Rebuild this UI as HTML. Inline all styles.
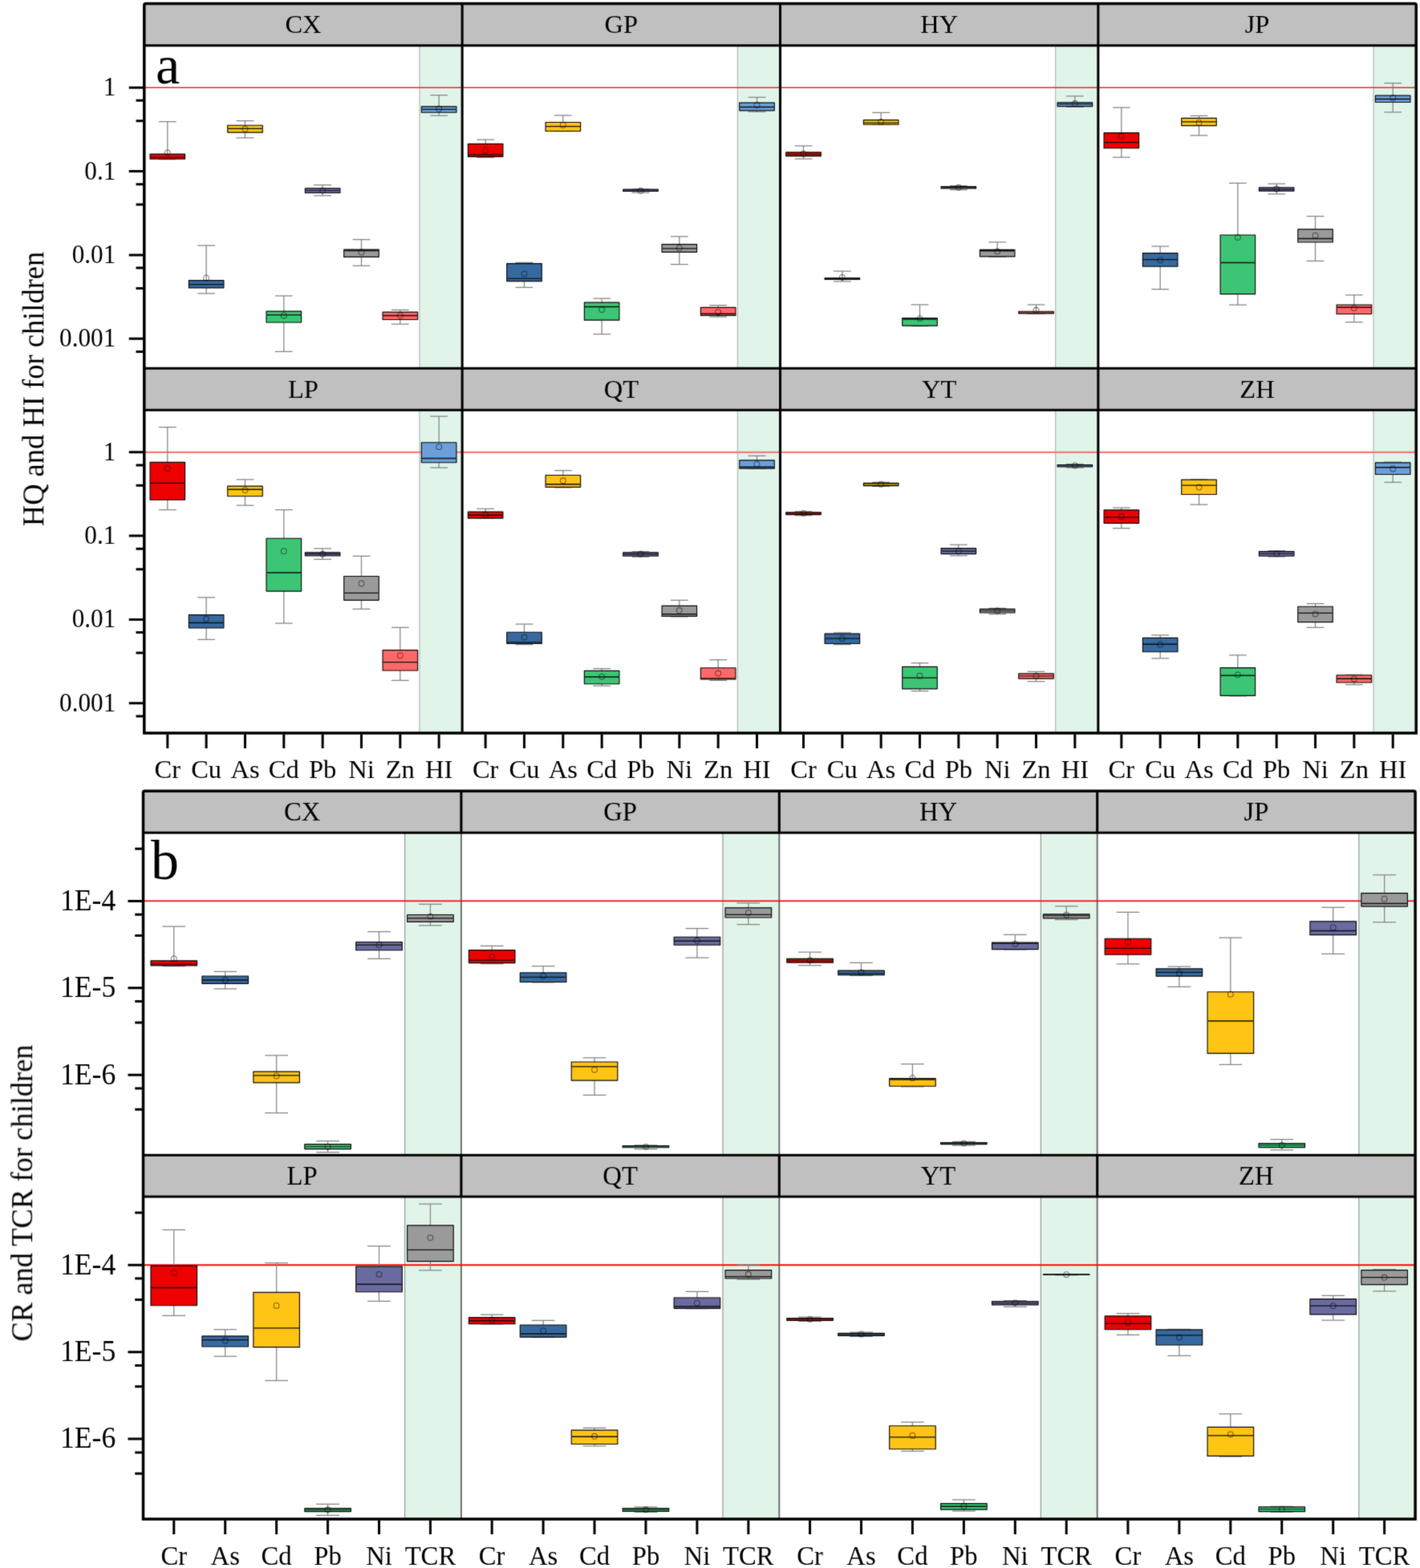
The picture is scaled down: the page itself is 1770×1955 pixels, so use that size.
<!DOCTYPE html>
<html lang="en">
<head>
<meta charset="utf-8">
<title>HQ, HI, CR and TCR for children</title>
<style>
html,body{margin:0;padding:0;background:#fff;}
body{width:1770px;height:1955px;overflow:hidden;}
svg{display:block;}
svg text{font-family:"Liberation Serif","Times New Roman",serif;fill:#000;}
</style>
</head>
<body>
<svg width="1770" height="1955" viewBox="0 0 1770 1955">
<defs><filter id="soft" x="0" y="0" width="1770" height="1955" filterUnits="userSpaceOnUse" color-interpolation-filters="sRGB"><feConvolveMatrix order="3" kernelMatrix="0.02 0.09 0.02 0.09 0.56 0.09 0.02 0.09 0.02" edgeMode="duplicate" preserveAlpha="false"/></filter></defs>
<rect width="1770" height="1955" fill="#fff"/>
<g filter="url(#soft)">
<rect x="522.98" y="56.8" width="53.17" height="402.5" fill="#e1f4ea"/>
<line x1="522.98" y1="56.8" x2="522.98" y2="459.3" stroke="#a9b4ae" stroke-width="1.1"/>
<rect x="919.33" y="56.8" width="53.17" height="402.5" fill="#e1f4ea"/>
<line x1="919.33" y1="56.8" x2="919.33" y2="459.3" stroke="#a9b4ae" stroke-width="1.1"/>
<rect x="1315.68" y="56.8" width="53.17" height="402.5" fill="#e1f4ea"/>
<line x1="1315.68" y1="56.8" x2="1315.68" y2="459.3" stroke="#a9b4ae" stroke-width="1.1"/>
<rect x="1712.03" y="56.8" width="53.17" height="402.5" fill="#e1f4ea"/>
<line x1="1712.03" y1="56.8" x2="1712.03" y2="459.3" stroke="#a9b4ae" stroke-width="1.1"/>
<line x1="179.8" y1="109.2" x2="1765.2" y2="109.2" stroke="#e8282c" stroke-width="1.4" stroke-opacity="1"/>
<rect x="522.98" y="511.2" width="53.17" height="402.7" fill="#e1f4ea"/>
<line x1="522.98" y1="511.2" x2="522.98" y2="913.9" stroke="#a9b4ae" stroke-width="1.1"/>
<rect x="919.33" y="511.2" width="53.17" height="402.7" fill="#e1f4ea"/>
<line x1="919.33" y1="511.2" x2="919.33" y2="913.9" stroke="#a9b4ae" stroke-width="1.1"/>
<rect x="1315.68" y="511.2" width="53.17" height="402.7" fill="#e1f4ea"/>
<line x1="1315.68" y1="511.2" x2="1315.68" y2="913.9" stroke="#a9b4ae" stroke-width="1.1"/>
<rect x="1712.03" y="511.2" width="53.17" height="402.7" fill="#e1f4ea"/>
<line x1="1712.03" y1="511.2" x2="1712.03" y2="913.9" stroke="#a9b4ae" stroke-width="1.1"/>
<line x1="179.8" y1="563.9" x2="1765.2" y2="563.9" stroke="#f77" stroke-width="2.4" stroke-opacity="1"/>
<path d="M208.8 151.64V198.62M197.93 151.64H219.68M197.93 198.62H219.68" stroke="#858585" stroke-width="1.25" fill="none"/><rect x="187.03" y="192.08" width="43.55" height="6.14" fill="#ee0000" stroke="#0a0a0a" stroke-width="1.15" stroke-linejoin="round"/><line x1="187.63" y1="196.16" x2="229.98" y2="196.16" stroke="#111" stroke-width="1.35" stroke-opacity="0.8"/><circle cx="208.8" cy="190.34" r="3.4" fill="none" stroke="#000" stroke-opacity="0.5" stroke-width="1.05"/>
<path d="M257.14 306.01V365.97M246.26 306.01H268.01M246.26 365.97H268.01" stroke="#858585" stroke-width="1.25" fill="none"/><rect x="235.36" y="349.59" width="43.55" height="9.27" fill="#36699f" stroke="#0a0a0a" stroke-width="1.15" stroke-linejoin="round"/><line x1="235.96" y1="354.56" x2="278.31" y2="354.56" stroke="#111" stroke-width="1.35" stroke-opacity="1"/><circle cx="257.14" cy="346.73" r="3.4" fill="none" stroke="#000" stroke-opacity="0.5" stroke-width="1.05"/>
<path d="M305.47 150.74V171.77M294.6 150.74H316.35M294.6 171.77H316.35" stroke="#858585" stroke-width="1.25" fill="none"/><rect x="283.7" y="156.29" width="43.55" height="8.82" fill="#ffc414" stroke="#0a0a0a" stroke-width="1.15" stroke-linejoin="round"/><line x1="284.3" y1="160.36" x2="326.65" y2="160.36" stroke="#111" stroke-width="1.35" stroke-opacity="1"/><circle cx="305.47" cy="160.81" r="3.4" fill="none" stroke="#000" stroke-opacity="0.5" stroke-width="1.05"/>
<path d="M353.81 368.88V438.46M342.93 368.88H364.68M342.93 438.46H364.68" stroke="#858585" stroke-width="1.25" fill="none"/><rect x="332.03" y="388.07" width="43.55" height="13.97" fill="#3cc574" stroke="#0a0a0a" stroke-width="1.15" stroke-linejoin="round"/><line x1="332.63" y1="392.59" x2="374.98" y2="392.59" stroke="#111" stroke-width="1.35" stroke-opacity="1"/><circle cx="353.81" cy="393.49" r="3.4" fill="none" stroke="#000" stroke-opacity="0.5" stroke-width="1.05"/>
<path d="M402.14 230.61V243.81M391.27 230.61H413.02M391.27 243.81H413.02" stroke="#858585" stroke-width="1.25" fill="none"/><rect x="380.37" y="234.82" width="43.55" height="5.69" fill="#6a6aa0" stroke="#0a0a0a" stroke-width="1.15" stroke-linejoin="round"/><line x1="380.97" y1="237.55" x2="423.32" y2="237.55" stroke="#111" stroke-width="1.35" stroke-opacity="0.8"/><circle cx="402.14" cy="237.55" r="3.4" fill="none" stroke="#000" stroke-opacity="0.5" stroke-width="1.05"/>
<path d="M450.48 298.63V331.29M439.6 298.63H461.35M439.6 331.29H461.35" stroke="#858585" stroke-width="1.25" fill="none"/><rect x="428.7" y="311.11" width="43.55" height="9.27" fill="#9a9a9a" stroke="#0a0a0a" stroke-width="1.15" stroke-linejoin="round"/><line x1="429.3" y1="312.5" x2="471.65" y2="312.5" stroke="#111" stroke-width="1.35" stroke-opacity="1"/><circle cx="450.48" cy="314.51" r="3.4" fill="none" stroke="#000" stroke-opacity="0.5" stroke-width="1.05"/>
<path d="M498.81 386.33V404.23M487.94 386.33H509.69M487.94 404.23H509.69" stroke="#858585" stroke-width="1.25" fill="none"/><rect x="477.04" y="389.19" width="43.55" height="9.27" fill="#ff6868" stroke="#0a0a0a" stroke-width="1.15" stroke-linejoin="round"/><line x1="477.64" y1="393.49" x2="519.99" y2="393.49" stroke="#111" stroke-width="1.35" stroke-opacity="1"/><circle cx="498.81" cy="393.49" r="3.4" fill="none" stroke="#000" stroke-opacity="0.5" stroke-width="1.05"/>
<path d="M547.15 118.53V144.03M536.27 118.53H558.02M536.27 144.03H558.02" stroke="#858585" stroke-width="1.25" fill="none"/><rect x="525.37" y="132.8" width="43.55" height="7.48" fill="#6b9fd8" stroke="#0a0a0a" stroke-width="1.15" stroke-linejoin="round"/><line x1="525.97" y1="136.42" x2="568.32" y2="136.42" stroke="#111" stroke-width="1.35" stroke-opacity="1"/><circle cx="547.15" cy="135.75" r="3.4" fill="none" stroke="#000" stroke-opacity="0.5" stroke-width="1.05"/>
<path d="M605.15 174.23V196.38M594.28 174.23H616.03M594.28 196.38H616.03" stroke="#858585" stroke-width="1.25" fill="none"/><rect x="583.38" y="179.33" width="43.55" height="15.98" fill="#ee0000" stroke="#0a0a0a" stroke-width="1.15" stroke-linejoin="round"/><line x1="583.98" y1="192.8" x2="626.33" y2="192.8" stroke="#111" stroke-width="1.35" stroke-opacity="1"/><circle cx="605.15" cy="187.43" r="3.4" fill="none" stroke="#000" stroke-opacity="0.5" stroke-width="1.05"/>
<path d="M653.49 327.26V358.36M642.61 327.26H664.36M642.61 358.36H664.36" stroke="#858585" stroke-width="1.25" fill="none"/><rect x="631.71" y="328.56" width="43.55" height="22.02" fill="#36699f" stroke="#0a0a0a" stroke-width="1.15" stroke-linejoin="round"/><line x1="632.31" y1="347.4" x2="674.66" y2="347.4" stroke="#111" stroke-width="1.35" stroke-opacity="1"/><circle cx="653.49" cy="341.58" r="3.4" fill="none" stroke="#000" stroke-opacity="0.5" stroke-width="1.05"/>
<path d="M701.82 143.81V163.72M690.95 143.81H712.7M690.95 163.72H712.7" stroke="#858585" stroke-width="1.25" fill="none"/><rect x="680.05" y="152.48" width="43.55" height="11.06" fill="#ffc414" stroke="#0a0a0a" stroke-width="1.15" stroke-linejoin="round"/><line x1="680.65" y1="157.68" x2="723" y2="157.68" stroke="#111" stroke-width="1.35" stroke-opacity="1"/><circle cx="701.82" cy="155.89" r="3.4" fill="none" stroke="#000" stroke-opacity="0.5" stroke-width="1.05"/>
<path d="M750.16 372.23V416.53M739.28 372.23H761.03M739.28 416.53H761.03" stroke="#858585" stroke-width="1.25" fill="none"/><rect x="728.38" y="377.11" width="43.55" height="22.02" fill="#3cc574" stroke="#0a0a0a" stroke-width="1.15" stroke-linejoin="round"/><line x1="728.98" y1="382.53" x2="771.33" y2="382.53" stroke="#111" stroke-width="1.35" stroke-opacity="1"/><circle cx="750.16" cy="386.11" r="3.4" fill="none" stroke="#000" stroke-opacity="0.5" stroke-width="1.05"/>
<path d="M798.49 235.98V240.01M787.62 235.98H809.37M787.62 240.01H809.37" stroke="#858585" stroke-width="1.25" fill="none"/><rect x="776.72" y="236.16" width="43.55" height="2.33" fill="#6a6aa0" stroke="#0a0a0a" stroke-width="1.15" stroke-linejoin="round"/><line x1="777.32" y1="237.33" x2="819.67" y2="237.33" stroke="#111" stroke-width="1.35" stroke-opacity="0.5"/><circle cx="798.49" cy="237.77" r="3.4" fill="none" stroke="#000" stroke-opacity="0.5" stroke-width="1.05"/>
<path d="M846.83 294.82V329.73M835.95 294.82H857.7M835.95 329.73H857.7" stroke="#858585" stroke-width="1.25" fill="none"/><rect x="825.05" y="304.62" width="43.55" height="9.72" fill="#9a9a9a" stroke="#0a0a0a" stroke-width="1.15" stroke-linejoin="round"/><line x1="825.65" y1="309.81" x2="868" y2="309.81" stroke="#111" stroke-width="1.35" stroke-opacity="1"/><circle cx="846.83" cy="309.14" r="3.4" fill="none" stroke="#000" stroke-opacity="0.5" stroke-width="1.05"/>
<path d="M895.16 380.51V395.05M884.29 380.51H906.04M884.29 395.05H906.04" stroke="#858585" stroke-width="1.25" fill="none"/><rect x="873.39" y="383.37" width="43.55" height="9.94" fill="#ff6868" stroke="#0a0a0a" stroke-width="1.15" stroke-linejoin="round"/><line x1="873.99" y1="391.25" x2="916.34" y2="391.25" stroke="#111" stroke-width="1.35" stroke-opacity="1"/><circle cx="895.16" cy="389.24" r="3.4" fill="none" stroke="#000" stroke-opacity="0.5" stroke-width="1.05"/>
<path d="M943.5 121.43V139.33M932.62 121.43H954.37M932.62 139.33H954.37" stroke="#858585" stroke-width="1.25" fill="none"/><rect x="921.72" y="128.1" width="43.55" height="9.72" fill="#6b9fd8" stroke="#0a0a0a" stroke-width="1.15" stroke-linejoin="round"/><line x1="922.32" y1="133.52" x2="964.67" y2="133.52" stroke="#111" stroke-width="1.35" stroke-opacity="1"/><circle cx="943.5" cy="131.05" r="3.4" fill="none" stroke="#000" stroke-opacity="0.5" stroke-width="1.05"/>
<path d="M1001.5 181.84V198.17M990.63 181.84H1012.38M990.63 198.17H1012.38" stroke="#858585" stroke-width="1.25" fill="none"/><rect x="979.73" y="189.85" width="43.55" height="4.8" fill="#ee0000" stroke="#0a0a0a" stroke-width="1.15" stroke-linejoin="round"/><line x1="980.33" y1="192.36" x2="1022.68" y2="192.36" stroke="#111" stroke-width="1.35" stroke-opacity="0.8"/><circle cx="1001.5" cy="191.68" r="3.4" fill="none" stroke="#000" stroke-opacity="0.5" stroke-width="1.05"/>
<path d="M1049.84 338V350.98M1038.96 338H1060.71M1038.96 350.98H1060.71" stroke="#858585" stroke-width="1.25" fill="none"/><rect x="1028.06" y="346.46" width="43.55" height="1.89" fill="#36699f" stroke="#0a0a0a" stroke-width="1.15" stroke-linejoin="round"/><line x1="1028.66" y1="347.4" x2="1071.01" y2="347.4" stroke="#111" stroke-width="1.35" stroke-opacity="0.5"/><circle cx="1049.84" cy="345.83" r="3.4" fill="none" stroke="#000" stroke-opacity="0.5" stroke-width="1.05"/>
<path d="M1098.17 140.45V155.44M1087.3 140.45H1109.05M1087.3 155.44H1109.05" stroke="#858585" stroke-width="1.25" fill="none"/><rect x="1076.4" y="149.57" width="43.55" height="5.69" fill="#ffc414" stroke="#0a0a0a" stroke-width="1.15" stroke-linejoin="round"/><line x1="1077" y1="153.2" x2="1119.35" y2="153.2" stroke="#111" stroke-width="1.35" stroke-opacity="0.8"/><circle cx="1098.17" cy="151.86" r="3.4" fill="none" stroke="#000" stroke-opacity="0.5" stroke-width="1.05"/>
<path d="M1146.51 379.84V406.69M1135.63 379.84H1157.38M1135.63 406.69H1157.38" stroke="#858585" stroke-width="1.25" fill="none"/><rect x="1124.73" y="396.57" width="43.55" height="9.49" fill="#3cc574" stroke="#0a0a0a" stroke-width="1.15" stroke-linejoin="round"/><line x1="1125.33" y1="397.96" x2="1167.68" y2="397.96" stroke="#111" stroke-width="1.35" stroke-opacity="1"/><circle cx="1146.51" cy="397.07" r="3.4" fill="none" stroke="#000" stroke-opacity="0.5" stroke-width="1.05"/>
<path d="M1194.84 231.51V236.65M1183.97 231.51H1205.72M1183.97 236.65H1205.72" stroke="#858585" stroke-width="1.25" fill="none"/><rect x="1173.07" y="232.58" width="43.55" height="2.33" fill="#6a6aa0" stroke="#0a0a0a" stroke-width="1.15" stroke-linejoin="round"/><line x1="1173.67" y1="233.75" x2="1216.02" y2="233.75" stroke="#111" stroke-width="1.35" stroke-opacity="0.5"/><circle cx="1194.84" cy="233.75" r="3.4" fill="none" stroke="#000" stroke-opacity="0.5" stroke-width="1.05"/>
<path d="M1243.18 301.98V320.11M1232.3 301.98H1254.05M1232.3 320.11H1254.05" stroke="#858585" stroke-width="1.25" fill="none"/><rect x="1221.4" y="311.33" width="43.55" height="8.6" fill="#9a9a9a" stroke="#0a0a0a" stroke-width="1.15" stroke-linejoin="round"/><line x1="1222" y1="312.72" x2="1264.35" y2="312.72" stroke="#111" stroke-width="1.35" stroke-opacity="1"/><circle cx="1243.18" cy="313.39" r="3.4" fill="none" stroke="#000" stroke-opacity="0.5" stroke-width="1.05"/>
<path d="M1291.51 379.84V391.03M1280.64 379.84H1302.39M1280.64 391.03H1302.39" stroke="#858585" stroke-width="1.25" fill="none"/><rect x="1269.74" y="388.29" width="43.55" height="2.56" fill="#ff6868" stroke="#0a0a0a" stroke-width="1.15" stroke-linejoin="round"/><line x1="1270.34" y1="389.68" x2="1312.69" y2="389.68" stroke="#111" stroke-width="1.35" stroke-opacity="0.5"/><circle cx="1291.51" cy="386.78" r="3.4" fill="none" stroke="#000" stroke-opacity="0.5" stroke-width="1.05"/>
<path d="M1339.85 119.87V133.29M1328.97 119.87H1350.72M1328.97 133.29H1350.72" stroke="#858585" stroke-width="1.25" fill="none"/><rect x="1318.07" y="127.87" width="43.55" height="4.8" fill="#6b9fd8" stroke="#0a0a0a" stroke-width="1.15" stroke-linejoin="round"/><line x1="1318.67" y1="129.71" x2="1361.02" y2="129.71" stroke="#111" stroke-width="1.35" stroke-opacity="0.8"/><circle cx="1339.85" cy="129.04" r="3.4" fill="none" stroke="#000" stroke-opacity="0.5" stroke-width="1.05"/>
<path d="M1397.85 134.19V196.16M1386.98 134.19H1408.73M1386.98 196.16H1408.73" stroke="#858585" stroke-width="1.25" fill="none"/><rect x="1376.08" y="165.68" width="43.55" height="19.11" fill="#ee0000" stroke="#0a0a0a" stroke-width="1.15" stroke-linejoin="round"/><line x1="1376.68" y1="177.59" x2="1419.03" y2="177.59" stroke="#111" stroke-width="1.35" stroke-opacity="1"/><circle cx="1397.85" cy="169.76" r="3.4" fill="none" stroke="#000" stroke-opacity="0.5" stroke-width="1.05"/>
<path d="M1446.19 307.13V360.6M1435.31 307.13H1457.06M1435.31 360.6H1457.06" stroke="#858585" stroke-width="1.25" fill="none"/><rect x="1424.41" y="315.58" width="43.55" height="16.65" fill="#36699f" stroke="#0a0a0a" stroke-width="1.15" stroke-linejoin="round"/><line x1="1425.01" y1="323.68" x2="1467.36" y2="323.68" stroke="#111" stroke-width="1.35" stroke-opacity="1"/><circle cx="1446.19" cy="324.36" r="3.4" fill="none" stroke="#000" stroke-opacity="0.5" stroke-width="1.05"/>
<path d="M1494.52 144.25V168.86M1483.65 144.25H1505.4M1483.65 168.86H1505.4" stroke="#858585" stroke-width="1.25" fill="none"/><rect x="1472.75" y="147.34" width="43.55" height="9.27" fill="#ffc414" stroke="#0a0a0a" stroke-width="1.15" stroke-linejoin="round"/><line x1="1473.35" y1="151.86" x2="1515.7" y2="151.86" stroke="#111" stroke-width="1.35" stroke-opacity="1"/><circle cx="1494.52" cy="152.98" r="3.4" fill="none" stroke="#000" stroke-opacity="0.5" stroke-width="1.05"/>
<path d="M1542.86 228.38V380.06M1531.98 228.38H1553.73M1531.98 380.06H1553.73" stroke="#858585" stroke-width="1.25" fill="none"/><rect x="1521.08" y="292.99" width="43.55" height="73.7" fill="#3cc574" stroke="#0a0a0a" stroke-width="1.15" stroke-linejoin="round"/><line x1="1521.68" y1="327.49" x2="1564.03" y2="327.49" stroke="#111" stroke-width="1.35" stroke-opacity="1"/><circle cx="1542.86" cy="295.94" r="3.4" fill="none" stroke="#000" stroke-opacity="0.5" stroke-width="1.05"/>
<path d="M1591.19 229.05V241.8M1580.32 229.05H1602.07M1580.32 241.8H1602.07" stroke="#858585" stroke-width="1.25" fill="none"/><rect x="1569.42" y="233.7" width="43.55" height="4.35" fill="#6a6aa0" stroke="#0a0a0a" stroke-width="1.15" stroke-linejoin="round"/><line x1="1570.02" y1="235.98" x2="1612.37" y2="235.98" stroke="#111" stroke-width="1.35" stroke-opacity="0.8"/><circle cx="1591.19" cy="235.54" r="3.4" fill="none" stroke="#000" stroke-opacity="0.5" stroke-width="1.05"/>
<path d="M1639.53 269.54V325.25M1628.65 269.54H1650.4M1628.65 325.25H1650.4" stroke="#858585" stroke-width="1.25" fill="none"/><rect x="1617.75" y="285.83" width="43.55" height="16.21" fill="#9a9a9a" stroke="#0a0a0a" stroke-width="1.15" stroke-linejoin="round"/><line x1="1618.35" y1="297.51" x2="1660.7" y2="297.51" stroke="#111" stroke-width="1.35" stroke-opacity="1"/><circle cx="1639.53" cy="293.71" r="3.4" fill="none" stroke="#000" stroke-opacity="0.5" stroke-width="1.05"/>
<path d="M1687.86 367.76V401.54M1676.99 367.76H1698.74M1676.99 401.54H1698.74" stroke="#858585" stroke-width="1.25" fill="none"/><rect x="1666.09" y="380.02" width="43.55" height="11.51" fill="#ff6868" stroke="#0a0a0a" stroke-width="1.15" stroke-linejoin="round"/><line x1="1666.69" y1="383.2" x2="1709.04" y2="383.2" stroke="#111" stroke-width="1.35" stroke-opacity="1"/><circle cx="1687.86" cy="384.09" r="3.4" fill="none" stroke="#000" stroke-opacity="0.5" stroke-width="1.05"/>
<path d="M1736.2 103.54V139.78M1725.32 103.54H1747.07M1725.32 139.78H1747.07" stroke="#858585" stroke-width="1.25" fill="none"/><rect x="1714.42" y="119.15" width="43.55" height="8.38" fill="#6b9fd8" stroke="#0a0a0a" stroke-width="1.15" stroke-linejoin="round"/><line x1="1715.02" y1="123.45" x2="1757.37" y2="123.45" stroke="#111" stroke-width="1.35" stroke-opacity="1"/><circle cx="1736.2" cy="122.11" r="3.4" fill="none" stroke="#000" stroke-opacity="0.5" stroke-width="1.05"/>
<path d="M208.8 532.58V635.72M197.93 532.58H219.68M197.93 635.72H219.68" stroke="#858585" stroke-width="1.25" fill="none"/><rect x="187.03" y="576.39" width="43.55" height="46.86" fill="#ee0000" stroke="#0a0a0a" stroke-width="1.15" stroke-linejoin="round"/><line x1="187.63" y1="602.39" x2="229.98" y2="602.39" stroke="#111" stroke-width="1.35" stroke-opacity="1"/><circle cx="208.8" cy="584.04" r="3.4" fill="none" stroke="#000" stroke-opacity="0.5" stroke-width="1.05"/>
<path d="M257.14 744.9V797.48M246.26 744.9H268.01M246.26 797.48H268.01" stroke="#858585" stroke-width="1.25" fill="none"/><rect x="235.36" y="766.55" width="43.55" height="16.43" fill="#36699f" stroke="#0a0a0a" stroke-width="1.15" stroke-linejoin="round"/><line x1="235.96" y1="776.45" x2="278.31" y2="776.45" stroke="#111" stroke-width="1.35" stroke-opacity="1"/><circle cx="257.14" cy="771.75" r="3.4" fill="none" stroke="#000" stroke-opacity="0.5" stroke-width="1.05"/>
<path d="M305.47 597.91V630.13M294.6 597.91H316.35M294.6 630.13H316.35" stroke="#858585" stroke-width="1.25" fill="none"/><rect x="283.7" y="606.14" width="43.55" height="12.63" fill="#ffc414" stroke="#0a0a0a" stroke-width="1.15" stroke-linejoin="round"/><line x1="284.3" y1="610.22" x2="326.65" y2="610.22" stroke="#111" stroke-width="1.35" stroke-opacity="1"/><circle cx="305.47" cy="611.11" r="3.4" fill="none" stroke="#000" stroke-opacity="0.5" stroke-width="1.05"/>
<path d="M353.81 635.5V777.12M342.93 635.5H364.68M342.93 777.12H364.68" stroke="#858585" stroke-width="1.25" fill="none"/><rect x="332.03" y="671.25" width="43.55" height="65.87" fill="#3cc574" stroke="#0a0a0a" stroke-width="1.15" stroke-linejoin="round"/><line x1="332.63" y1="714.03" x2="374.98" y2="714.03" stroke="#111" stroke-width="1.35" stroke-opacity="1"/><circle cx="353.81" cy="687.18" r="3.4" fill="none" stroke="#000" stroke-opacity="0.5" stroke-width="1.05"/>
<path d="M402.14 683.82V697.47M391.27 683.82H413.02M391.27 697.47H413.02" stroke="#858585" stroke-width="1.25" fill="none"/><rect x="380.37" y="688.92" width="43.55" height="4.12" fill="#6a6aa0" stroke="#0a0a0a" stroke-width="1.15" stroke-linejoin="round"/><line x1="380.97" y1="690.76" x2="423.32" y2="690.76" stroke="#111" stroke-width="1.35" stroke-opacity="0.8"/><circle cx="402.14" cy="690.76" r="3.4" fill="none" stroke="#000" stroke-opacity="0.5" stroke-width="1.05"/>
<path d="M450.48 693.44V759.44M439.6 693.44H461.35M439.6 759.44H461.35" stroke="#858585" stroke-width="1.25" fill="none"/><rect x="428.7" y="718.45" width="43.55" height="29.85" fill="#9a9a9a" stroke="#0a0a0a" stroke-width="1.15" stroke-linejoin="round"/><line x1="429.3" y1="739.31" x2="471.65" y2="739.31" stroke="#111" stroke-width="1.35" stroke-opacity="1"/><circle cx="450.48" cy="727.45" r="3.4" fill="none" stroke="#000" stroke-opacity="0.5" stroke-width="1.05"/>
<path d="M498.81 782.26V848.26M487.94 782.26H509.69M487.94 848.26H509.69" stroke="#858585" stroke-width="1.25" fill="none"/><rect x="477.04" y="810.63" width="43.55" height="25.38" fill="#ff6868" stroke="#0a0a0a" stroke-width="1.15" stroke-linejoin="round"/><line x1="477.64" y1="825.67" x2="519.99" y2="825.67" stroke="#111" stroke-width="1.35" stroke-opacity="1"/><circle cx="498.81" cy="817.39" r="3.4" fill="none" stroke="#000" stroke-opacity="0.5" stroke-width="1.05"/>
<path d="M547.15 519.16V583.15M536.27 519.16H558.02M536.27 583.15H558.02" stroke="#858585" stroke-width="1.25" fill="none"/><rect x="525.37" y="551.78" width="43.55" height="24.93" fill="#6b9fd8" stroke="#0a0a0a" stroke-width="1.15" stroke-linejoin="round"/><line x1="525.97" y1="571.51" x2="568.32" y2="571.51" stroke="#111" stroke-width="1.35" stroke-opacity="1"/><circle cx="547.15" cy="557.19" r="3.4" fill="none" stroke="#000" stroke-opacity="0.5" stroke-width="1.05"/>
<path d="M605.15 634.38V646.24M594.28 634.38H616.03M594.28 646.24H616.03" stroke="#858585" stroke-width="1.25" fill="none"/><rect x="583.38" y="638.13" width="43.55" height="7.93" fill="#ee0000" stroke="#0a0a0a" stroke-width="1.15" stroke-linejoin="round"/><line x1="583.98" y1="642.21" x2="626.33" y2="642.21" stroke="#111" stroke-width="1.35" stroke-opacity="1"/><circle cx="605.15" cy="641.76" r="3.4" fill="none" stroke="#000" stroke-opacity="0.5" stroke-width="1.05"/>
<path d="M653.49 778.24V803.74M642.61 778.24H664.36M642.61 803.74H664.36" stroke="#858585" stroke-width="1.25" fill="none"/><rect x="631.71" y="788.26" width="43.55" height="14.19" fill="#36699f" stroke="#0a0a0a" stroke-width="1.15" stroke-linejoin="round"/><line x1="632.31" y1="800.83" x2="674.66" y2="800.83" stroke="#111" stroke-width="1.35" stroke-opacity="1"/><circle cx="653.49" cy="794.57" r="3.4" fill="none" stroke="#000" stroke-opacity="0.5" stroke-width="1.05"/>
<path d="M701.82 586.73V607.76M690.95 586.73H712.7M690.95 607.76H712.7" stroke="#858585" stroke-width="1.25" fill="none"/><rect x="680.05" y="592.49" width="43.55" height="14.86" fill="#ffc414" stroke="#0a0a0a" stroke-width="1.15" stroke-linejoin="round"/><line x1="680.65" y1="603.73" x2="723" y2="603.73" stroke="#111" stroke-width="1.35" stroke-opacity="1"/><circle cx="701.82" cy="599.25" r="3.4" fill="none" stroke="#000" stroke-opacity="0.5" stroke-width="1.05"/>
<path d="M750.16 833.5V855.2M739.28 833.5H761.03M739.28 855.2H761.03" stroke="#858585" stroke-width="1.25" fill="none"/><rect x="728.38" y="836.36" width="43.55" height="16.43" fill="#3cc574" stroke="#0a0a0a" stroke-width="1.15" stroke-linejoin="round"/><line x1="728.98" y1="844.01" x2="771.33" y2="844.01" stroke="#111" stroke-width="1.35" stroke-opacity="1"/><circle cx="750.16" cy="843.57" r="3.4" fill="none" stroke="#000" stroke-opacity="0.5" stroke-width="1.05"/>
<path d="M798.49 687.63V694.34M787.62 687.63H809.37M787.62 694.34H809.37" stroke="#858585" stroke-width="1.25" fill="none"/><rect x="776.72" y="688.92" width="43.55" height="4.35" fill="#6a6aa0" stroke="#0a0a0a" stroke-width="1.15" stroke-linejoin="round"/><line x1="777.32" y1="690.98" x2="819.67" y2="690.98" stroke="#111" stroke-width="1.35" stroke-opacity="0.8"/><circle cx="798.49" cy="690.76" r="3.4" fill="none" stroke="#000" stroke-opacity="0.5" stroke-width="1.05"/>
<path d="M846.83 748.26V768.84M835.95 748.26H857.7M835.95 768.84H857.7" stroke="#858585" stroke-width="1.25" fill="none"/><rect x="825.05" y="755.37" width="43.55" height="13.07" fill="#9a9a9a" stroke="#0a0a0a" stroke-width="1.15" stroke-linejoin="round"/><line x1="825.65" y1="765.71" x2="868" y2="765.71" stroke="#111" stroke-width="1.35" stroke-opacity="1"/><circle cx="846.83" cy="761.01" r="3.4" fill="none" stroke="#000" stroke-opacity="0.5" stroke-width="1.05"/>
<path d="M895.16 822.54V848.49M884.29 822.54H906.04M884.29 848.49H906.04" stroke="#858585" stroke-width="1.25" fill="none"/><rect x="873.39" y="832.78" width="43.55" height="14.19" fill="#ff6868" stroke="#0a0a0a" stroke-width="1.15" stroke-linejoin="round"/><line x1="873.99" y1="845.8" x2="916.34" y2="845.8" stroke="#111" stroke-width="1.35" stroke-opacity="1"/><circle cx="895.16" cy="839.54" r="3.4" fill="none" stroke="#000" stroke-opacity="0.5" stroke-width="1.05"/>
<path d="M943.5 568.38V584.49M932.62 568.38H954.37M932.62 584.49H954.37" stroke="#858585" stroke-width="1.25" fill="none"/><rect x="921.72" y="573.92" width="43.55" height="10.17" fill="#6b9fd8" stroke="#0a0a0a" stroke-width="1.15" stroke-linejoin="round"/><line x1="922.32" y1="582.25" x2="964.67" y2="582.25" stroke="#111" stroke-width="1.35" stroke-opacity="1"/><circle cx="943.5" cy="578.89" r="3.4" fill="none" stroke="#000" stroke-opacity="0.5" stroke-width="1.05"/>
<path d="M1001.5 637.74V642.66M990.63 637.74H1012.38M990.63 642.66H1012.38" stroke="#858585" stroke-width="1.25" fill="none"/><rect x="979.73" y="638.81" width="43.55" height="2.78" fill="#ee0000" stroke="#0a0a0a" stroke-width="1.15" stroke-linejoin="round"/><line x1="980.33" y1="640.2" x2="1022.68" y2="640.2" stroke="#111" stroke-width="1.35" stroke-opacity="0.5"/><circle cx="1001.5" cy="639.97" r="3.4" fill="none" stroke="#000" stroke-opacity="0.5" stroke-width="1.05"/>
<path d="M1049.84 788.75V803.74M1038.96 788.75H1060.71M1038.96 803.74H1060.71" stroke="#858585" stroke-width="1.25" fill="none"/><rect x="1028.06" y="790.05" width="43.55" height="12.4" fill="#36699f" stroke="#0a0a0a" stroke-width="1.15" stroke-linejoin="round"/><line x1="1028.66" y1="796.14" x2="1071.01" y2="796.14" stroke="#111" stroke-width="1.35" stroke-opacity="1"/><circle cx="1049.84" cy="796.14" r="3.4" fill="none" stroke="#000" stroke-opacity="0.5" stroke-width="1.05"/>
<path d="M1098.17 601.27V606.41M1087.3 601.27H1109.05M1087.3 606.41H1109.05" stroke="#858585" stroke-width="1.25" fill="none"/><rect x="1076.4" y="602.34" width="43.55" height="3.23" fill="#ffc414" stroke="#0a0a0a" stroke-width="1.15" stroke-linejoin="round"/><line x1="1077" y1="603.95" x2="1119.35" y2="603.95" stroke="#111" stroke-width="1.35" stroke-opacity="0.5"/><circle cx="1098.17" cy="603.73" r="3.4" fill="none" stroke="#000" stroke-opacity="0.5" stroke-width="1.05"/>
<path d="M1146.51 826.56V861.69M1135.63 826.56H1157.38M1135.63 861.69H1157.38" stroke="#858585" stroke-width="1.25" fill="none"/><rect x="1124.73" y="831.44" width="43.55" height="27.39" fill="#3cc574" stroke="#0a0a0a" stroke-width="1.15" stroke-linejoin="round"/><line x1="1125.33" y1="845.13" x2="1167.68" y2="845.13" stroke="#111" stroke-width="1.35" stroke-opacity="1"/><circle cx="1146.51" cy="842.67" r="3.4" fill="none" stroke="#000" stroke-opacity="0.5" stroke-width="1.05"/>
<path d="M1194.84 679.13V692.77M1183.97 679.13H1205.72M1183.97 692.77H1205.72" stroke="#858585" stroke-width="1.25" fill="none"/><rect x="1173.07" y="683.55" width="43.55" height="7.03" fill="#6a6aa0" stroke="#0a0a0a" stroke-width="1.15" stroke-linejoin="round"/><line x1="1173.67" y1="687.18" x2="1216.02" y2="687.18" stroke="#111" stroke-width="1.35" stroke-opacity="1"/><circle cx="1194.84" cy="687.18" r="3.4" fill="none" stroke="#000" stroke-opacity="0.5" stroke-width="1.05"/>
<path d="M1243.18 758.33V765.71M1232.3 758.33H1254.05M1232.3 765.71H1254.05" stroke="#858585" stroke-width="1.25" fill="none"/><rect x="1221.4" y="759.4" width="43.55" height="4.57" fill="#9a9a9a" stroke="#0a0a0a" stroke-width="1.15" stroke-linejoin="round"/><line x1="1222" y1="761.46" x2="1264.35" y2="761.46" stroke="#111" stroke-width="1.35" stroke-opacity="0.8"/><circle cx="1243.18" cy="761.46" r="3.4" fill="none" stroke="#000" stroke-opacity="0.5" stroke-width="1.05"/>
<path d="M1291.51 837.3V849.61M1280.64 837.3H1302.39M1280.64 849.61H1302.39" stroke="#858585" stroke-width="1.25" fill="none"/><rect x="1269.74" y="839.94" width="43.55" height="6.14" fill="#ff6868" stroke="#0a0a0a" stroke-width="1.15" stroke-linejoin="round"/><line x1="1270.34" y1="842.89" x2="1312.69" y2="842.89" stroke="#111" stroke-width="1.35" stroke-opacity="0.8"/><circle cx="1291.51" cy="842.67" r="3.4" fill="none" stroke="#000" stroke-opacity="0.5" stroke-width="1.05"/>
<path d="M1339.85 578.67V583.15M1328.97 578.67H1350.72M1328.97 583.15H1350.72" stroke="#858585" stroke-width="1.25" fill="none"/><rect x="1318.07" y="579.52" width="43.55" height="2.33" fill="#6b9fd8" stroke="#0a0a0a" stroke-width="1.15" stroke-linejoin="round"/><line x1="1318.67" y1="580.68" x2="1361.02" y2="580.68" stroke="#111" stroke-width="1.35" stroke-opacity="0.5"/><circle cx="1339.85" cy="580.46" r="3.4" fill="none" stroke="#000" stroke-opacity="0.5" stroke-width="1.05"/>
<path d="M1397.85 633.04V658.54M1386.98 633.04H1408.73M1386.98 658.54H1408.73" stroke="#858585" stroke-width="1.25" fill="none"/><rect x="1376.08" y="635.9" width="43.55" height="16.43" fill="#ee0000" stroke="#0a0a0a" stroke-width="1.15" stroke-linejoin="round"/><line x1="1376.68" y1="644.89" x2="1419.03" y2="644.89" stroke="#111" stroke-width="1.35" stroke-opacity="1"/><circle cx="1397.85" cy="644" r="3.4" fill="none" stroke="#000" stroke-opacity="0.5" stroke-width="1.05"/>
<path d="M1446.19 791.88V820.97M1435.31 791.88H1457.06M1435.31 820.97H1457.06" stroke="#858585" stroke-width="1.25" fill="none"/><rect x="1424.41" y="795.42" width="43.55" height="17.32" fill="#36699f" stroke="#0a0a0a" stroke-width="1.15" stroke-linejoin="round"/><line x1="1425.01" y1="803.29" x2="1467.36" y2="803.29" stroke="#111" stroke-width="1.35" stroke-opacity="1"/><circle cx="1446.19" cy="803.52" r="3.4" fill="none" stroke="#000" stroke-opacity="0.5" stroke-width="1.05"/>
<path d="M1494.52 597.91V629.01M1483.65 597.91H1505.4M1483.65 629.01H1505.4" stroke="#858585" stroke-width="1.25" fill="none"/><rect x="1472.75" y="598.09" width="43.55" height="18.44" fill="#ffc414" stroke="#0a0a0a" stroke-width="1.15" stroke-linejoin="round"/><line x1="1473.35" y1="605.07" x2="1515.7" y2="605.07" stroke="#111" stroke-width="1.35" stroke-opacity="1"/><circle cx="1494.52" cy="607.53" r="3.4" fill="none" stroke="#000" stroke-opacity="0.5" stroke-width="1.05"/>
<path d="M1542.86 816.94V867.95M1531.98 816.94H1553.73M1531.98 867.95H1553.73" stroke="#858585" stroke-width="1.25" fill="none"/><rect x="1521.08" y="832.55" width="43.55" height="34.78" fill="#3cc574" stroke="#0a0a0a" stroke-width="1.15" stroke-linejoin="round"/><line x1="1521.68" y1="842.22" x2="1564.03" y2="842.22" stroke="#111" stroke-width="1.35" stroke-opacity="1"/><circle cx="1542.86" cy="841.33" r="3.4" fill="none" stroke="#000" stroke-opacity="0.5" stroke-width="1.05"/>
<path d="M1591.19 686.73V694.12M1580.32 686.73H1602.07M1580.32 694.12H1602.07" stroke="#858585" stroke-width="1.25" fill="none"/><rect x="1569.42" y="687.58" width="43.55" height="5.69" fill="#6a6aa0" stroke="#0a0a0a" stroke-width="1.15" stroke-linejoin="round"/><line x1="1570.02" y1="690.31" x2="1612.37" y2="690.31" stroke="#111" stroke-width="1.35" stroke-opacity="0.8"/><circle cx="1591.19" cy="690.31" r="3.4" fill="none" stroke="#000" stroke-opacity="0.5" stroke-width="1.05"/>
<path d="M1639.53 752.73V782.49M1628.65 752.73H1650.4M1628.65 782.49H1650.4" stroke="#858585" stroke-width="1.25" fill="none"/><rect x="1617.75" y="756.26" width="43.55" height="19.34" fill="#9a9a9a" stroke="#0a0a0a" stroke-width="1.15" stroke-linejoin="round"/><line x1="1618.35" y1="764.37" x2="1660.7" y2="764.37" stroke="#111" stroke-width="1.35" stroke-opacity="1"/><circle cx="1639.53" cy="765.48" r="3.4" fill="none" stroke="#000" stroke-opacity="0.5" stroke-width="1.05"/>
<path d="M1687.86 841.33V853.63M1676.99 841.33H1698.74M1676.99 853.63H1698.74" stroke="#858585" stroke-width="1.25" fill="none"/><rect x="1666.09" y="841.73" width="43.55" height="9.27" fill="#ff6868" stroke="#0a0a0a" stroke-width="1.15" stroke-linejoin="round"/><line x1="1666.69" y1="846.25" x2="1709.04" y2="846.25" stroke="#111" stroke-width="1.35" stroke-opacity="1"/><circle cx="1687.86" cy="846.47" r="3.4" fill="none" stroke="#000" stroke-opacity="0.5" stroke-width="1.05"/>
<path d="M1736.2 576.21V601.49M1725.32 576.21H1747.07M1725.32 601.49H1747.07" stroke="#858585" stroke-width="1.25" fill="none"/><rect x="1714.42" y="576.83" width="43.55" height="14.64" fill="#6b9fd8" stroke="#0a0a0a" stroke-width="1.15" stroke-linejoin="round"/><line x1="1715.02" y1="582.7" x2="1757.37" y2="582.7" stroke="#111" stroke-width="1.35" stroke-opacity="1"/><circle cx="1736.2" cy="584.49" r="3.4" fill="none" stroke="#000" stroke-opacity="0.5" stroke-width="1.05"/>
<rect x="179.8" y="4.5" width="1585.4" height="52.3" fill="#c0c0c0"/>
<rect x="179.8" y="459.3" width="1585.4" height="51.9" fill="#c0c0c0"/>
<path d="M179.8 56.8H1765.2M179.8 511.2H1765.2M179.8 459.3H1765.2M576.15 4.5V913.9M972.5 4.5V913.9M1368.85 4.5V913.9" stroke="#000" stroke-width="3.05" fill="none"/>
<path d="M179.8 913.9V6.5Q179.8 4.5 181.8 4.5H1763.2Q1765.2 4.5 1765.2 6.5V913.9Z" fill="none" stroke="#000" stroke-width="3.5" stroke-linejoin="miter"/>
<path d="M160.75 109.2H178.25M169.55 125.36H178.25M169.55 150.73H178.25M160.75 213.55H178.25M169.55 229.71H178.25M169.55 255.08H178.25M160.75 317.9H178.25M169.55 334.06H178.25M169.55 359.43H178.25M160.75 422.25H178.25M169.55 438.41H178.25M160.75 563.75H178.25M169.55 579.91H178.25M169.55 605.28H178.25M160.75 668.1H178.25M169.55 684.26H178.25M169.55 709.63H178.25M160.75 772.45H178.25M169.55 788.61H178.25M169.55 813.98H178.25M160.75 876.8H178.25M169.55 892.96H178.25M208.8 915.45V932.95M257.14 915.45V932.95M305.47 915.45V932.95M353.81 915.45V932.95M402.14 915.45V932.95M450.48 915.45V932.95M498.81 915.45V932.95M547.15 915.45V932.95M605.15 915.45V932.95M653.49 915.45V932.95M701.82 915.45V932.95M750.16 915.45V932.95M798.49 915.45V932.95M846.83 915.45V932.95M895.16 915.45V932.95M943.5 915.45V932.95M1001.5 915.45V932.95M1049.84 915.45V932.95M1098.17 915.45V932.95M1146.51 915.45V932.95M1194.84 915.45V932.95M1243.18 915.45V932.95M1291.51 915.45V932.95M1339.85 915.45V932.95M1397.85 915.45V932.95M1446.19 915.45V932.95M1494.52 915.45V932.95M1542.86 915.45V932.95M1591.19 915.45V932.95M1639.53 915.45V932.95M1687.86 915.45V932.95M1736.2 915.45V932.95" stroke="#000" stroke-width="3.0" fill="none"/>
<g font-size="32.5px"><text x="377.98" y="41.1" text-anchor="middle">CX</text><text x="774.33" y="41.1" text-anchor="middle">GP</text><text x="1170.67" y="41.1" text-anchor="middle">HY</text><text x="1567.03" y="41.1" text-anchor="middle">JP</text><text transform="translate(144.3 119.2) scale(0.975 1.055)" text-anchor="end" font-size="32px">1</text><text transform="translate(144.3 223.55) scale(0.975 1.055)" text-anchor="end" font-size="32px">0.1</text><text transform="translate(144.3 327.9) scale(0.975 1.055)" text-anchor="end" font-size="32px">0.01</text><text transform="translate(144.3 432.25) scale(0.975 1.055)" text-anchor="end" font-size="32px">0.001</text><text x="377.98" y="495.9" text-anchor="middle">LP</text><text x="774.33" y="495.9" text-anchor="middle">QT</text><text x="1170.67" y="495.9" text-anchor="middle">YT</text><text x="1567.03" y="495.9" text-anchor="middle">ZH</text><text transform="translate(144.3 573.75) scale(0.975 1.055)" text-anchor="end" font-size="32px">1</text><text transform="translate(144.3 678.1) scale(0.975 1.055)" text-anchor="end" font-size="32px">0.1</text><text transform="translate(144.3 782.45) scale(0.975 1.055)" text-anchor="end" font-size="32px">0.01</text><text transform="translate(144.3 886.8) scale(0.975 1.055)" text-anchor="end" font-size="32px">0.001</text><text x="208.8" y="970.4" text-anchor="middle">Cr</text><text x="257.14" y="970.4" text-anchor="middle">Cu</text><text x="305.47" y="970.4" text-anchor="middle">As</text><text x="353.81" y="970.4" text-anchor="middle">Cd</text><text x="402.14" y="970.4" text-anchor="middle">Pb</text><text x="450.48" y="970.4" text-anchor="middle">Ni</text><text x="498.81" y="970.4" text-anchor="middle">Zn</text><text x="547.15" y="970.4" text-anchor="middle">HI</text><text x="605.15" y="970.4" text-anchor="middle">Cr</text><text x="653.49" y="970.4" text-anchor="middle">Cu</text><text x="701.82" y="970.4" text-anchor="middle">As</text><text x="750.16" y="970.4" text-anchor="middle">Cd</text><text x="798.49" y="970.4" text-anchor="middle">Pb</text><text x="846.83" y="970.4" text-anchor="middle">Ni</text><text x="895.16" y="970.4" text-anchor="middle">Zn</text><text x="943.5" y="970.4" text-anchor="middle">HI</text><text x="1001.5" y="970.4" text-anchor="middle">Cr</text><text x="1049.84" y="970.4" text-anchor="middle">Cu</text><text x="1098.17" y="970.4" text-anchor="middle">As</text><text x="1146.51" y="970.4" text-anchor="middle">Cd</text><text x="1194.84" y="970.4" text-anchor="middle">Pb</text><text x="1243.18" y="970.4" text-anchor="middle">Ni</text><text x="1291.51" y="970.4" text-anchor="middle">Zn</text><text x="1339.85" y="970.4" text-anchor="middle">HI</text><text x="1397.85" y="970.4" text-anchor="middle">Cr</text><text x="1446.19" y="970.4" text-anchor="middle">Cu</text><text x="1494.52" y="970.4" text-anchor="middle">As</text><text x="1542.86" y="970.4" text-anchor="middle">Cd</text><text x="1591.19" y="970.4" text-anchor="middle">Pb</text><text x="1639.53" y="970.4" text-anchor="middle">Ni</text><text x="1687.86" y="970.4" text-anchor="middle">Zn</text><text x="1736.2" y="970.4" text-anchor="middle">HI</text></g>
<text transform="translate(54.6 485) rotate(-90) scale(1 1.04)" text-anchor="middle" font-size="36.5px">HQ and HI for children</text>
<text x="194" y="104.3" font-size="68px">a</text>
<rect x="504.57" y="1038.3" width="70.33" height="401.9" fill="#e1f4ea"/>
<line x1="504.57" y1="1038.3" x2="504.57" y2="1440.2" stroke="#939d98" stroke-width="1.25"/>
<rect x="900.97" y="1038.3" width="70.33" height="401.9" fill="#e1f4ea"/>
<line x1="900.97" y1="1038.3" x2="900.97" y2="1440.2" stroke="#939d98" stroke-width="1.25"/>
<rect x="1297.37" y="1038.3" width="70.33" height="401.9" fill="#e1f4ea"/>
<line x1="1297.37" y1="1038.3" x2="1297.37" y2="1440.2" stroke="#939d98" stroke-width="1.25"/>
<rect x="1693.77" y="1038.3" width="70.33" height="401.9" fill="#e1f4ea"/>
<line x1="1693.77" y1="1038.3" x2="1693.77" y2="1440.2" stroke="#939d98" stroke-width="1.25"/>
<line x1="574.9" y1="1038.3" x2="574.9" y2="1440.2" stroke="#6a6a6a" stroke-width="1.9"/>
<line x1="971.3" y1="1038.3" x2="971.3" y2="1440.2" stroke="#6a6a6a" stroke-width="1.9"/>
<line x1="1367.7" y1="1038.3" x2="1367.7" y2="1440.2" stroke="#6a6a6a" stroke-width="1.9"/>
<line x1="178.5" y1="1123.4" x2="1764.1" y2="1123.4" stroke="#ff0808" stroke-width="1.9" stroke-opacity="1"/>
<rect x="504.57" y="1491.9" width="70.33" height="402.1" fill="#e1f4ea"/>
<line x1="504.57" y1="1491.9" x2="504.57" y2="1894" stroke="#939d98" stroke-width="1.25"/>
<rect x="900.97" y="1491.9" width="70.33" height="402.1" fill="#e1f4ea"/>
<line x1="900.97" y1="1491.9" x2="900.97" y2="1894" stroke="#939d98" stroke-width="1.25"/>
<rect x="1297.37" y="1491.9" width="70.33" height="402.1" fill="#e1f4ea"/>
<line x1="1297.37" y1="1491.9" x2="1297.37" y2="1894" stroke="#939d98" stroke-width="1.25"/>
<rect x="1693.77" y="1491.9" width="70.33" height="402.1" fill="#e1f4ea"/>
<line x1="1693.77" y1="1491.9" x2="1693.77" y2="1894" stroke="#939d98" stroke-width="1.25"/>
<line x1="574.9" y1="1491.9" x2="574.9" y2="1894" stroke="#6a6a6a" stroke-width="1.9"/>
<line x1="971.3" y1="1491.9" x2="971.3" y2="1894" stroke="#6a6a6a" stroke-width="1.9"/>
<line x1="1367.7" y1="1491.9" x2="1367.7" y2="1894" stroke="#6a6a6a" stroke-width="1.9"/>
<line x1="178.5" y1="1577.3" x2="1764.1" y2="1577.3" stroke="#ff0808" stroke-width="1.9" stroke-opacity="1"/>
<path d="M216.76 1155.12V1204.56M202.38 1155.12H231.15M202.38 1204.56H231.15" stroke="#858585" stroke-width="1.25" fill="none"/><rect x="187.97" y="1197.8" width="57.59" height="6.14" fill="#ee0000" stroke="#0a0a0a" stroke-width="1.15" stroke-linejoin="round"/><line x1="188.57" y1="1201.87" x2="244.96" y2="1201.87" stroke="#111" stroke-width="1.35" stroke-opacity="0.8"/><circle cx="216.76" cy="1195.16" r="3.4" fill="none" stroke="#000" stroke-opacity="0.5" stroke-width="1.05"/>
<path d="M280.7 1211.49V1232.97M266.31 1211.49H295.08M266.31 1232.97H295.08" stroke="#858585" stroke-width="1.25" fill="none"/><rect x="251.9" y="1217.04" width="57.59" height="9.27" fill="#36699f" stroke="#0a0a0a" stroke-width="1.15" stroke-linejoin="round"/><line x1="252.5" y1="1222.01" x2="308.89" y2="1222.01" stroke="#111" stroke-width="1.35" stroke-opacity="1"/><circle cx="280.7" cy="1222.01" r="3.4" fill="none" stroke="#000" stroke-opacity="0.5" stroke-width="1.05"/>
<path d="M344.63 1315.98V1387.57M330.25 1315.98H359.02M330.25 1387.57H359.02" stroke="#858585" stroke-width="1.25" fill="none"/><rect x="315.84" y="1336.06" width="57.59" height="13.74" fill="#ffc414" stroke="#0a0a0a" stroke-width="1.15" stroke-linejoin="round"/><line x1="316.44" y1="1340.81" x2="372.83" y2="1340.81" stroke="#111" stroke-width="1.35" stroke-opacity="1"/><circle cx="344.63" cy="1341.48" r="3.4" fill="none" stroke="#000" stroke-opacity="0.5" stroke-width="1.05"/>
<path d="M408.57 1422.69V1436.57M394.18 1422.69H422.95M394.18 1436.57H422.95" stroke="#858585" stroke-width="1.25" fill="none"/><rect x="379.77" y="1426.67" width="57.59" height="5.91" fill="#3cc574" stroke="#0a0a0a" stroke-width="1.15" stroke-linejoin="round"/><line x1="380.37" y1="1429.63" x2="436.76" y2="1429.63" stroke="#111" stroke-width="1.35" stroke-opacity="0.8"/><circle cx="408.57" cy="1429.63" r="3.4" fill="none" stroke="#000" stroke-opacity="0.5" stroke-width="1.05"/>
<path d="M472.5 1161.6V1195.39M458.12 1161.6H486.89M458.12 1195.39H486.89" stroke="#858585" stroke-width="1.25" fill="none"/><rect x="443.71" y="1174.53" width="57.59" height="10.17" fill="#6a6aa0" stroke="#0a0a0a" stroke-width="1.15" stroke-linejoin="round"/><line x1="444.31" y1="1178.16" x2="500.7" y2="1178.16" stroke="#111" stroke-width="1.35" stroke-opacity="1"/><circle cx="472.5" cy="1178.16" r="3.4" fill="none" stroke="#000" stroke-opacity="0.5" stroke-width="1.05"/>
<path d="M536.44 1127.37V1153.77M522.05 1127.37H550.82M522.05 1153.77H550.82" stroke="#858585" stroke-width="1.25" fill="none"/><rect x="507.64" y="1140.52" width="57.59" height="8.82" fill="#9a9a9a" stroke="#0a0a0a" stroke-width="1.15" stroke-linejoin="round"/><line x1="508.24" y1="1144.82" x2="564.63" y2="1144.82" stroke="#111" stroke-width="1.35" stroke-opacity="1"/><circle cx="536.44" cy="1142.59" r="3.4" fill="none" stroke="#000" stroke-opacity="0.5" stroke-width="1.05"/>
<path d="M613.16 1179.28V1201.65M598.78 1179.28H627.55M598.78 1201.65H627.55" stroke="#858585" stroke-width="1.25" fill="none"/><rect x="584.37" y="1184.6" width="57.59" height="15.98" fill="#ee0000" stroke="#0a0a0a" stroke-width="1.15" stroke-linejoin="round"/><line x1="584.97" y1="1197.18" x2="641.36" y2="1197.18" stroke="#111" stroke-width="1.35" stroke-opacity="1"/><circle cx="613.16" cy="1192.93" r="3.4" fill="none" stroke="#000" stroke-opacity="0.5" stroke-width="1.05"/>
<path d="M677.1 1204.56V1224.92M662.71 1204.56H691.48M662.71 1224.92H691.48" stroke="#858585" stroke-width="1.25" fill="none"/><rect x="648.3" y="1212.79" width="57.59" height="11.73" fill="#36699f" stroke="#0a0a0a" stroke-width="1.15" stroke-linejoin="round"/><line x1="648.9" y1="1218.43" x2="705.29" y2="1218.43" stroke="#111" stroke-width="1.35" stroke-opacity="1"/><circle cx="677.1" cy="1216.86" r="3.4" fill="none" stroke="#000" stroke-opacity="0.5" stroke-width="1.05"/>
<path d="M741.03 1318.88V1365.42M726.65 1318.88H755.42M726.65 1365.42H755.42" stroke="#858585" stroke-width="1.25" fill="none"/><rect x="712.24" y="1323.98" width="57.59" height="23.14" fill="#ffc414" stroke="#0a0a0a" stroke-width="1.15" stroke-linejoin="round"/><line x1="712.84" y1="1329.85" x2="769.23" y2="1329.85" stroke="#111" stroke-width="1.35" stroke-opacity="1"/><circle cx="741.03" cy="1333.87" r="3.4" fill="none" stroke="#000" stroke-opacity="0.5" stroke-width="1.05"/>
<path d="M804.97 1427.84V1432.54M790.58 1427.84H819.35M790.58 1432.54H819.35" stroke="#858585" stroke-width="1.25" fill="none"/><rect x="776.17" y="1428.69" width="57.59" height="2.11" fill="#3cc574" stroke="#0a0a0a" stroke-width="1.15" stroke-linejoin="round"/><line x1="776.77" y1="1429.85" x2="833.16" y2="1429.85" stroke="#111" stroke-width="1.35" stroke-opacity="0.5"/><circle cx="804.97" cy="1429.85" r="3.4" fill="none" stroke="#000" stroke-opacity="0.5" stroke-width="1.05"/>
<path d="M868.9 1157.58V1194.04M854.52 1157.58H883.29M854.52 1194.04H883.29" stroke="#858585" stroke-width="1.25" fill="none"/><rect x="840.11" y="1168.27" width="57.59" height="9.94" fill="#6a6aa0" stroke="#0a0a0a" stroke-width="1.15" stroke-linejoin="round"/><line x1="840.71" y1="1173.24" x2="897.1" y2="1173.24" stroke="#111" stroke-width="1.35" stroke-opacity="1"/><circle cx="868.9" cy="1172.79" r="3.4" fill="none" stroke="#000" stroke-opacity="0.5" stroke-width="1.05"/>
<path d="M932.84 1125.81V1152.65M918.45 1125.81H947.22M918.45 1152.65H947.22" stroke="#858585" stroke-width="1.25" fill="none"/><rect x="904.04" y="1131.8" width="57.59" height="12.18" fill="#9a9a9a" stroke="#0a0a0a" stroke-width="1.15" stroke-linejoin="round"/><line x1="904.64" y1="1140.35" x2="961.03" y2="1140.35" stroke="#111" stroke-width="1.35" stroke-opacity="1"/><circle cx="932.84" cy="1138.11" r="3.4" fill="none" stroke="#000" stroke-opacity="0.5" stroke-width="1.05"/>
<path d="M1009.56 1187.11V1203.66M995.18 1187.11H1023.95M995.18 1203.66H1023.95" stroke="#858585" stroke-width="1.25" fill="none"/><rect x="980.77" y="1195.34" width="57.59" height="4.8" fill="#ee0000" stroke="#0a0a0a" stroke-width="1.15" stroke-linejoin="round"/><line x1="981.37" y1="1197.85" x2="1037.76" y2="1197.85" stroke="#111" stroke-width="1.35" stroke-opacity="0.8"/><circle cx="1009.56" cy="1197.18" r="3.4" fill="none" stroke="#000" stroke-opacity="0.5" stroke-width="1.05"/>
<path d="M1073.5 1200.31V1216.42M1059.11 1200.31H1087.88M1059.11 1216.42H1087.88" stroke="#858585" stroke-width="1.25" fill="none"/><rect x="1044.7" y="1210.1" width="57.59" height="5.69" fill="#36699f" stroke="#0a0a0a" stroke-width="1.15" stroke-linejoin="round"/><line x1="1045.3" y1="1213.73" x2="1101.69" y2="1213.73" stroke="#111" stroke-width="1.35" stroke-opacity="0.8"/><circle cx="1073.5" cy="1212.39" r="3.4" fill="none" stroke="#000" stroke-opacity="0.5" stroke-width="1.05"/>
<path d="M1137.43 1326.72V1354.91M1123.05 1326.72H1151.82M1123.05 1354.91H1151.82" stroke="#858585" stroke-width="1.25" fill="none"/><rect x="1108.64" y="1344.56" width="57.59" height="9.72" fill="#ffc414" stroke="#0a0a0a" stroke-width="1.15" stroke-linejoin="round"/><line x1="1109.24" y1="1345.96" x2="1165.63" y2="1345.96" stroke="#111" stroke-width="1.35" stroke-opacity="1"/><circle cx="1137.43" cy="1344.17" r="3.4" fill="none" stroke="#000" stroke-opacity="0.5" stroke-width="1.05"/>
<path d="M1201.37 1423.37V1428.06M1186.98 1423.37H1215.75M1186.98 1428.06H1215.75" stroke="#858585" stroke-width="1.25" fill="none"/><rect x="1172.57" y="1424.66" width="57.59" height="1.89" fill="#3cc574" stroke="#0a0a0a" stroke-width="1.15" stroke-linejoin="round"/><line x1="1173.17" y1="1425.6" x2="1229.56" y2="1425.6" stroke="#111" stroke-width="1.35" stroke-opacity="0.5"/><circle cx="1201.37" cy="1425.6" r="3.4" fill="none" stroke="#000" stroke-opacity="0.5" stroke-width="1.05"/>
<path d="M1265.3 1165.41V1183.98M1250.92 1165.41H1279.69M1250.92 1183.98H1279.69" stroke="#858585" stroke-width="1.25" fill="none"/><rect x="1236.51" y="1174.98" width="57.59" height="8.6" fill="#6a6aa0" stroke="#0a0a0a" stroke-width="1.15" stroke-linejoin="round"/><line x1="1237.11" y1="1176.37" x2="1293.5" y2="1176.37" stroke="#111" stroke-width="1.35" stroke-opacity="1"/><circle cx="1265.3" cy="1177.04" r="3.4" fill="none" stroke="#000" stroke-opacity="0.5" stroke-width="1.05"/>
<path d="M1329.24 1129.83V1146.61M1314.85 1129.83H1343.62M1314.85 1146.61H1343.62" stroke="#858585" stroke-width="1.25" fill="none"/><rect x="1300.44" y="1139.85" width="57.59" height="5.02" fill="#9a9a9a" stroke="#0a0a0a" stroke-width="1.15" stroke-linejoin="round"/><line x1="1301.04" y1="1141.47" x2="1357.43" y2="1141.47" stroke="#111" stroke-width="1.35" stroke-opacity="0.8"/><circle cx="1329.24" cy="1140.57" r="3.4" fill="none" stroke="#000" stroke-opacity="0.5" stroke-width="1.05"/>
<path d="M1405.96 1137.44V1201.87M1391.58 1137.44H1420.35M1391.58 1201.87H1420.35" stroke="#858585" stroke-width="1.25" fill="none"/><rect x="1377.17" y="1170.28" width="57.59" height="20.01" fill="#ee0000" stroke="#0a0a0a" stroke-width="1.15" stroke-linejoin="round"/><line x1="1377.77" y1="1182.41" x2="1434.16" y2="1182.41" stroke="#111" stroke-width="1.35" stroke-opacity="1"/><circle cx="1405.96" cy="1174.58" r="3.4" fill="none" stroke="#000" stroke-opacity="0.5" stroke-width="1.05"/>
<path d="M1469.9 1205.01V1230.29M1455.51 1205.01H1484.28M1455.51 1230.29H1484.28" stroke="#858585" stroke-width="1.25" fill="none"/><rect x="1441.1" y="1207.87" width="57.59" height="9.27" fill="#36699f" stroke="#0a0a0a" stroke-width="1.15" stroke-linejoin="round"/><line x1="1441.7" y1="1212.39" x2="1498.09" y2="1212.39" stroke="#111" stroke-width="1.35" stroke-opacity="1"/><circle cx="1469.9" cy="1213.51" r="3.4" fill="none" stroke="#000" stroke-opacity="0.5" stroke-width="1.05"/>
<path d="M1533.83 1169.21V1327.39M1519.45 1169.21H1548.22M1519.45 1327.39H1548.22" stroke="#858585" stroke-width="1.25" fill="none"/><rect x="1505.04" y="1236.73" width="57.59" height="76.61" fill="#ffc414" stroke="#0a0a0a" stroke-width="1.15" stroke-linejoin="round"/><line x1="1505.64" y1="1273.02" x2="1562.03" y2="1273.02" stroke="#111" stroke-width="1.35" stroke-opacity="1"/><circle cx="1533.83" cy="1239.68" r="3.4" fill="none" stroke="#000" stroke-opacity="0.5" stroke-width="1.05"/>
<path d="M1597.77 1420.68V1433.88M1583.38 1420.68H1612.15M1583.38 1433.88H1612.15" stroke="#858585" stroke-width="1.25" fill="none"/><rect x="1568.97" y="1425.55" width="57.59" height="5.02" fill="#3cc574" stroke="#0a0a0a" stroke-width="1.15" stroke-linejoin="round"/><line x1="1569.57" y1="1427.84" x2="1625.96" y2="1427.84" stroke="#111" stroke-width="1.35" stroke-opacity="0.8"/><circle cx="1597.77" cy="1427.84" r="3.4" fill="none" stroke="#000" stroke-opacity="0.5" stroke-width="1.05"/>
<path d="M1661.7 1131.4V1189.35M1647.32 1131.4H1676.09M1647.32 1189.35H1676.09" stroke="#858585" stroke-width="1.25" fill="none"/><rect x="1632.91" y="1148.8" width="57.59" height="16.88" fill="#6a6aa0" stroke="#0a0a0a" stroke-width="1.15" stroke-linejoin="round"/><line x1="1633.51" y1="1160.48" x2="1689.9" y2="1160.48" stroke="#111" stroke-width="1.35" stroke-opacity="1"/><circle cx="1661.7" cy="1156.46" r="3.4" fill="none" stroke="#000" stroke-opacity="0.5" stroke-width="1.05"/>
<path d="M1725.64 1090.91V1149.75M1711.25 1090.91H1740.02M1711.25 1149.75H1740.02" stroke="#858585" stroke-width="1.25" fill="none"/><rect x="1696.84" y="1113.68" width="57.59" height="16.43" fill="#9a9a9a" stroke="#0a0a0a" stroke-width="1.15" stroke-linejoin="round"/><line x1="1697.44" y1="1126.48" x2="1753.83" y2="1126.48" stroke="#111" stroke-width="1.35" stroke-opacity="1"/><circle cx="1725.64" cy="1120.66" r="3.4" fill="none" stroke="#000" stroke-opacity="0.5" stroke-width="1.05"/>
<path d="M216.76 1533.27V1640.44M202.38 1533.27H231.15M202.38 1640.44H231.15" stroke="#858585" stroke-width="1.25" fill="none"/><rect x="187.97" y="1578.19" width="57.59" height="49.54" fill="#ee0000" stroke="#0a0a0a" stroke-width="1.15" stroke-linejoin="round"/><line x1="188.57" y1="1605.54" x2="244.96" y2="1605.54" stroke="#111" stroke-width="1.35" stroke-opacity="1"/><circle cx="216.76" cy="1586.97" r="3.4" fill="none" stroke="#000" stroke-opacity="0.5" stroke-width="1.05"/>
<path d="M280.7 1657.66V1691M266.31 1657.66H295.08M266.31 1691H295.08" stroke="#858585" stroke-width="1.25" fill="none"/><rect x="251.9" y="1665.89" width="57.59" height="13.07" fill="#36699f" stroke="#0a0a0a" stroke-width="1.15" stroke-linejoin="round"/><line x1="252.5" y1="1670.64" x2="308.89" y2="1670.64" stroke="#111" stroke-width="1.35" stroke-opacity="1"/><circle cx="280.7" cy="1671.54" r="3.4" fill="none" stroke="#000" stroke-opacity="0.5" stroke-width="1.05"/>
<path d="M344.63 1574.66V1721.43M330.25 1574.66H359.02M330.25 1721.43H359.02" stroke="#858585" stroke-width="1.25" fill="none"/><rect x="315.84" y="1611.3" width="57.59" height="68.33" fill="#ffc414" stroke="#0a0a0a" stroke-width="1.15" stroke-linejoin="round"/><line x1="316.44" y1="1655.87" x2="372.83" y2="1655.87" stroke="#111" stroke-width="1.35" stroke-opacity="1"/><circle cx="344.63" cy="1627.91" r="3.4" fill="none" stroke="#000" stroke-opacity="0.5" stroke-width="1.05"/>
<path d="M408.57 1875.35V1889.45M394.18 1875.35H422.95M394.18 1889.45H422.95" stroke="#858585" stroke-width="1.25" fill="none"/><rect x="379.77" y="1880.67" width="57.59" height="3.9" fill="#3cc574" stroke="#0a0a0a" stroke-width="1.15" stroke-linejoin="round"/><line x1="380.37" y1="1882.51" x2="436.76" y2="1882.51" stroke="#111" stroke-width="1.35" stroke-opacity="0.8"/><circle cx="408.57" cy="1882.29" r="3.4" fill="none" stroke="#000" stroke-opacity="0.5" stroke-width="1.05"/>
<path d="M472.5 1553.63V1622.32M458.12 1553.63H486.89M458.12 1622.32H486.89" stroke="#858585" stroke-width="1.25" fill="none"/><rect x="443.71" y="1579.09" width="57.59" height="31.64" fill="#6a6aa0" stroke="#0a0a0a" stroke-width="1.15" stroke-linejoin="round"/><line x1="444.31" y1="1601.28" x2="500.7" y2="1601.28" stroke="#111" stroke-width="1.35" stroke-opacity="1"/><circle cx="472.5" cy="1588.98" r="3.4" fill="none" stroke="#000" stroke-opacity="0.5" stroke-width="1.05"/>
<path d="M536.44 1501.05V1583.83M522.05 1501.05H550.82M522.05 1583.83H550.82" stroke="#858585" stroke-width="1.25" fill="none"/><rect x="507.64" y="1527.85" width="57.59" height="44.84" fill="#9a9a9a" stroke="#0a0a0a" stroke-width="1.15" stroke-linejoin="round"/><line x1="508.24" y1="1558.33" x2="564.63" y2="1558.33" stroke="#111" stroke-width="1.35" stroke-opacity="1"/><circle cx="536.44" cy="1543.12" r="3.4" fill="none" stroke="#000" stroke-opacity="0.5" stroke-width="1.05"/>
<path d="M613.16 1639.09V1650.95M598.78 1639.09H627.55M598.78 1650.95H627.55" stroke="#858585" stroke-width="1.25" fill="none"/><rect x="584.37" y="1642.63" width="57.59" height="8.15" fill="#ee0000" stroke="#0a0a0a" stroke-width="1.15" stroke-linejoin="round"/><line x1="584.97" y1="1646.7" x2="641.36" y2="1646.7" stroke="#111" stroke-width="1.35" stroke-opacity="1"/><circle cx="613.16" cy="1646.48" r="3.4" fill="none" stroke="#000" stroke-opacity="0.5" stroke-width="1.05"/>
<path d="M677.1 1646.25V1667.28M662.71 1646.25H691.48M662.71 1667.28H691.48" stroke="#858585" stroke-width="1.25" fill="none"/><rect x="648.3" y="1652.02" width="57.59" height="15.09" fill="#36699f" stroke="#0a0a0a" stroke-width="1.15" stroke-linejoin="round"/><line x1="648.9" y1="1663.03" x2="705.29" y2="1663.03" stroke="#111" stroke-width="1.35" stroke-opacity="1"/><circle cx="677.1" cy="1659.23" r="3.4" fill="none" stroke="#000" stroke-opacity="0.5" stroke-width="1.05"/>
<path d="M741.03 1780.27V1802.86M726.65 1780.27H755.42M726.65 1802.86H755.42" stroke="#858585" stroke-width="1.25" fill="none"/><rect x="712.24" y="1783.13" width="57.59" height="17.32" fill="#ffc414" stroke="#0a0a0a" stroke-width="1.15" stroke-linejoin="round"/><line x1="712.84" y1="1791.23" x2="769.23" y2="1791.23" stroke="#111" stroke-width="1.35" stroke-opacity="1"/><circle cx="741.03" cy="1790.78" r="3.4" fill="none" stroke="#000" stroke-opacity="0.5" stroke-width="1.05"/>
<path d="M804.97 1878.93V1885.42M790.58 1878.93H819.35M790.58 1885.42H819.35" stroke="#858585" stroke-width="1.25" fill="none"/><rect x="776.17" y="1880.45" width="57.59" height="3.9" fill="#3cc574" stroke="#0a0a0a" stroke-width="1.15" stroke-linejoin="round"/><line x1="776.77" y1="1882.29" x2="833.16" y2="1882.29" stroke="#111" stroke-width="1.35" stroke-opacity="0.8"/><circle cx="804.97" cy="1882.29" r="3.4" fill="none" stroke="#000" stroke-opacity="0.5" stroke-width="1.05"/>
<path d="M868.9 1610.46V1631.71M854.52 1610.46H883.29M854.52 1631.71H883.29" stroke="#858585" stroke-width="1.25" fill="none"/><rect x="840.11" y="1618.02" width="57.59" height="13.3" fill="#6a6aa0" stroke="#0a0a0a" stroke-width="1.15" stroke-linejoin="round"/><line x1="840.71" y1="1629.03" x2="897.1" y2="1629.03" stroke="#111" stroke-width="1.35" stroke-opacity="1"/><circle cx="868.9" cy="1624.55" r="3.4" fill="none" stroke="#000" stroke-opacity="0.5" stroke-width="1.05"/>
<path d="M932.84 1576.9V1595.24M918.45 1576.9H947.22M918.45 1595.24H947.22" stroke="#858585" stroke-width="1.25" fill="none"/><rect x="904.04" y="1583.56" width="57.59" height="10.39" fill="#9a9a9a" stroke="#0a0a0a" stroke-width="1.15" stroke-linejoin="round"/><line x1="904.64" y1="1591.66" x2="961.03" y2="1591.66" stroke="#111" stroke-width="1.35" stroke-opacity="1"/><circle cx="932.84" cy="1588.76" r="3.4" fill="none" stroke="#000" stroke-opacity="0.5" stroke-width="1.05"/>
<path d="M1009.56 1642V1647.37M995.18 1642H1023.95M995.18 1647.37H1023.95" stroke="#858585" stroke-width="1.25" fill="none"/><rect x="980.77" y="1643.52" width="57.59" height="2.78" fill="#ee0000" stroke="#0a0a0a" stroke-width="1.15" stroke-linejoin="round"/><line x1="981.37" y1="1644.91" x2="1037.76" y2="1644.91" stroke="#111" stroke-width="1.35" stroke-opacity="0.5"/><circle cx="1009.56" cy="1644.91" r="3.4" fill="none" stroke="#000" stroke-opacity="0.5" stroke-width="1.05"/>
<path d="M1073.5 1661.02V1666.39M1059.11 1661.02H1087.88M1059.11 1666.39H1087.88" stroke="#858585" stroke-width="1.25" fill="none"/><rect x="1044.7" y="1662.31" width="57.59" height="3.01" fill="#36699f" stroke="#0a0a0a" stroke-width="1.15" stroke-linejoin="round"/><line x1="1045.3" y1="1663.71" x2="1101.69" y2="1663.71" stroke="#111" stroke-width="1.35" stroke-opacity="0.5"/><circle cx="1073.5" cy="1663.48" r="3.4" fill="none" stroke="#000" stroke-opacity="0.5" stroke-width="1.05"/>
<path d="M1137.43 1773.11V1809.35M1123.05 1773.11H1151.82M1123.05 1809.35H1151.82" stroke="#858585" stroke-width="1.25" fill="none"/><rect x="1108.64" y="1777.76" width="57.59" height="28.96" fill="#ffc414" stroke="#0a0a0a" stroke-width="1.15" stroke-linejoin="round"/><line x1="1109.24" y1="1791.9" x2="1165.63" y2="1791.9" stroke="#111" stroke-width="1.35" stroke-opacity="1"/><circle cx="1137.43" cy="1789.89" r="3.4" fill="none" stroke="#000" stroke-opacity="0.5" stroke-width="1.05"/>
<path d="M1201.37 1869.76V1884.08M1186.98 1869.76H1215.75M1186.98 1884.08H1215.75" stroke="#858585" stroke-width="1.25" fill="none"/><rect x="1172.57" y="1874.63" width="57.59" height="7.48" fill="#3cc574" stroke="#0a0a0a" stroke-width="1.15" stroke-linejoin="round"/><line x1="1173.17" y1="1878.26" x2="1229.56" y2="1878.26" stroke="#111" stroke-width="1.35" stroke-opacity="1"/><circle cx="1201.37" cy="1878.04" r="3.4" fill="none" stroke="#000" stroke-opacity="0.5" stroke-width="1.05"/>
<path d="M1265.3 1621.64V1629.47M1250.92 1621.64H1279.69M1250.92 1629.47H1279.69" stroke="#858585" stroke-width="1.25" fill="none"/><rect x="1236.51" y="1622.49" width="57.59" height="4.35" fill="#6a6aa0" stroke="#0a0a0a" stroke-width="1.15" stroke-linejoin="round"/><line x1="1237.11" y1="1624.55" x2="1293.5" y2="1624.55" stroke="#111" stroke-width="1.35" stroke-opacity="0.8"/><circle cx="1265.3" cy="1624.33" r="3.4" fill="none" stroke="#000" stroke-opacity="0.5" stroke-width="1.05"/>
<path d="M1329.24 1588.53V1589.87M1314.85 1588.53H1343.62M1314.85 1589.87H1343.62" stroke="#858585" stroke-width="1.25" fill="none"/><rect x="1300.44" y="1588.93" width="57.59" height="0.54" fill="#9a9a9a" stroke="#0a0a0a" stroke-width="1.15" stroke-linejoin="round"/><line x1="1301.04" y1="1589.2" x2="1357.43" y2="1589.2" stroke="#111" stroke-width="1.35" stroke-opacity="0.5"/><circle cx="1329.24" cy="1589.2" r="3.4" fill="none" stroke="#000" stroke-opacity="0.5" stroke-width="1.05"/>
<path d="M1405.96 1637.53V1664.38M1391.58 1637.53H1420.35M1391.58 1664.38H1420.35" stroke="#858585" stroke-width="1.25" fill="none"/><rect x="1377.17" y="1640.84" width="57.59" height="16.88" fill="#ee0000" stroke="#0a0a0a" stroke-width="1.15" stroke-linejoin="round"/><line x1="1377.77" y1="1650.28" x2="1434.16" y2="1650.28" stroke="#111" stroke-width="1.35" stroke-opacity="1"/><circle cx="1405.96" cy="1648.72" r="3.4" fill="none" stroke="#000" stroke-opacity="0.5" stroke-width="1.05"/>
<path d="M1469.9 1657.44V1690.33M1455.51 1657.44H1484.28M1455.51 1690.33H1484.28" stroke="#858585" stroke-width="1.25" fill="none"/><rect x="1441.1" y="1657.84" width="57.59" height="19.11" fill="#36699f" stroke="#0a0a0a" stroke-width="1.15" stroke-linejoin="round"/><line x1="1441.7" y1="1664.82" x2="1498.09" y2="1664.82" stroke="#111" stroke-width="1.35" stroke-opacity="1"/><circle cx="1469.9" cy="1667.51" r="3.4" fill="none" stroke="#000" stroke-opacity="0.5" stroke-width="1.05"/>
<path d="M1533.83 1762.82V1816.06M1519.45 1762.82H1548.22M1519.45 1816.06H1548.22" stroke="#858585" stroke-width="1.25" fill="none"/><rect x="1505.04" y="1779.32" width="57.59" height="36.12" fill="#ffc414" stroke="#0a0a0a" stroke-width="1.15" stroke-linejoin="round"/><line x1="1505.64" y1="1789.89" x2="1562.03" y2="1789.89" stroke="#111" stroke-width="1.35" stroke-opacity="1"/><circle cx="1533.83" cy="1788.32" r="3.4" fill="none" stroke="#000" stroke-opacity="0.5" stroke-width="1.05"/>
<path d="M1597.77 1878.26V1885.2M1583.38 1878.26H1612.15M1583.38 1885.2H1612.15" stroke="#858585" stroke-width="1.25" fill="none"/><rect x="1568.97" y="1878.88" width="57.59" height="5.69" fill="#3cc574" stroke="#0a0a0a" stroke-width="1.15" stroke-linejoin="round"/><line x1="1569.57" y1="1881.62" x2="1625.96" y2="1881.62" stroke="#111" stroke-width="1.35" stroke-opacity="0.8"/><circle cx="1597.77" cy="1881.62" r="3.4" fill="none" stroke="#000" stroke-opacity="0.5" stroke-width="1.05"/>
<path d="M1661.7 1615.38V1646.03M1647.32 1615.38H1676.09M1647.32 1646.03H1676.09" stroke="#858585" stroke-width="1.25" fill="none"/><rect x="1632.91" y="1619.58" width="57.59" height="19.34" fill="#6a6aa0" stroke="#0a0a0a" stroke-width="1.15" stroke-linejoin="round"/><line x1="1633.51" y1="1628.13" x2="1689.9" y2="1628.13" stroke="#111" stroke-width="1.35" stroke-opacity="1"/><circle cx="1661.7" cy="1628.13" r="3.4" fill="none" stroke="#000" stroke-opacity="0.5" stroke-width="1.05"/>
<path d="M1725.64 1582.94V1609.79M1711.25 1582.94H1740.02M1711.25 1609.79H1740.02" stroke="#858585" stroke-width="1.25" fill="none"/><rect x="1696.84" y="1583.56" width="57.59" height="18" fill="#9a9a9a" stroke="#0a0a0a" stroke-width="1.15" stroke-linejoin="round"/><line x1="1697.44" y1="1592.56" x2="1753.83" y2="1592.56" stroke="#111" stroke-width="1.35" stroke-opacity="1"/><circle cx="1725.64" cy="1592.78" r="3.4" fill="none" stroke="#000" stroke-opacity="0.5" stroke-width="1.05"/>
<rect x="178.5" y="986.2" width="1585.6" height="52.1" fill="#c0c0c0"/>
<rect x="178.5" y="1440.2" width="1585.6" height="51.7" fill="#c0c0c0"/>
<path d="M178.5 1038.3H1764.1M178.5 1491.9H1764.1M178.5 1440.2H1764.1M574.9 986.2V1038.3M574.9 1440.2V1491.9M971.3 986.2V1038.3M971.3 1440.2V1491.9M1367.7 986.2V1038.3M1367.7 1440.2V1491.9" stroke="#000" stroke-width="3.05" fill="none"/>
<path d="M178.5 1894V988.2Q178.5 986.2 180.5 986.2H1762.1Q1764.1 986.2 1764.1 988.2V1894Z" fill="none" stroke="#000" stroke-width="3.5" stroke-linejoin="miter"/>
<path d="M168.25 1058.14H176.95M159.45 1123.4H176.95M168.25 1140.19H176.95M168.25 1166.54H176.95M159.45 1231.8H176.95M168.25 1248.59H176.95M168.25 1274.94H176.95M159.45 1340.2H176.95M168.25 1356.99H176.95M168.25 1383.34H176.95M168.25 1512.04H176.95M159.45 1577.3H176.95M168.25 1594.09H176.95M168.25 1620.44H176.95M159.45 1685.7H176.95M168.25 1702.49H176.95M168.25 1728.84H176.95M159.45 1794.1H176.95M168.25 1810.89H176.95M168.25 1837.24H176.95M216.76 1895.55V1913.05M280.7 1895.55V1913.05M344.63 1895.55V1913.05M408.57 1895.55V1913.05M472.5 1895.55V1913.05M536.44 1895.55V1913.05M613.16 1895.55V1913.05M677.1 1895.55V1913.05M741.03 1895.55V1913.05M804.97 1895.55V1913.05M868.9 1895.55V1913.05M932.84 1895.55V1913.05M1009.56 1895.55V1913.05M1073.5 1895.55V1913.05M1137.43 1895.55V1913.05M1201.37 1895.55V1913.05M1265.3 1895.55V1913.05M1329.24 1895.55V1913.05M1405.96 1895.55V1913.05M1469.9 1895.55V1913.05M1533.83 1895.55V1913.05M1597.77 1895.55V1913.05M1661.7 1895.55V1913.05M1725.64 1895.55V1913.05" stroke="#000" stroke-width="3.0" fill="none"/>
<g font-size="32.7px"><text x="376.7" y="1022.8" text-anchor="middle">CX</text><text x="773.1" y="1022.8" text-anchor="middle">GP</text><text x="1169.5" y="1022.8" text-anchor="middle">HY</text><text x="1565.9" y="1022.8" text-anchor="middle">JP</text><text transform="translate(144.3 1134.7) scale(1.115 1.18)" text-anchor="end" font-size="32px">1E-4</text><text transform="translate(144.3 1243.1) scale(1.115 1.18)" text-anchor="end" font-size="32px">1E-5</text><text transform="translate(144.3 1351.5) scale(1.115 1.18)" text-anchor="end" font-size="32px">1E-6</text><text x="376.7" y="1476.8" text-anchor="middle">LP</text><text x="773.1" y="1476.8" text-anchor="middle">QT</text><text x="1169.5" y="1476.8" text-anchor="middle">YT</text><text x="1565.9" y="1476.8" text-anchor="middle">ZH</text><text transform="translate(144.3 1588.6) scale(1.115 1.18)" text-anchor="end" font-size="32px">1E-4</text><text transform="translate(144.3 1697) scale(1.115 1.18)" text-anchor="end" font-size="32px">1E-5</text><text transform="translate(144.3 1805.4) scale(1.115 1.18)" text-anchor="end" font-size="32px">1E-6</text><text x="216.76" y="1951" text-anchor="middle">Cr</text><text x="280.7" y="1951" text-anchor="middle">As</text><text x="344.63" y="1951" text-anchor="middle">Cd</text><text x="408.57" y="1951" text-anchor="middle">Pb</text><text x="472.5" y="1951" text-anchor="middle">Ni</text><text x="536.44" y="1951" text-anchor="middle">TCR</text><text x="613.16" y="1951" text-anchor="middle">Cr</text><text x="677.1" y="1951" text-anchor="middle">As</text><text x="741.03" y="1951" text-anchor="middle">Cd</text><text x="804.97" y="1951" text-anchor="middle">Pb</text><text x="868.9" y="1951" text-anchor="middle">Ni</text><text x="932.84" y="1951" text-anchor="middle">TCR</text><text x="1009.56" y="1951" text-anchor="middle">Cr</text><text x="1073.5" y="1951" text-anchor="middle">As</text><text x="1137.43" y="1951" text-anchor="middle">Cd</text><text x="1201.37" y="1951" text-anchor="middle">Pb</text><text x="1265.3" y="1951" text-anchor="middle">Ni</text><text x="1329.24" y="1951" text-anchor="middle">TCR</text><text x="1405.96" y="1951" text-anchor="middle">Cr</text><text x="1469.9" y="1951" text-anchor="middle">As</text><text x="1533.83" y="1951" text-anchor="middle">Cd</text><text x="1597.77" y="1951" text-anchor="middle">Pb</text><text x="1661.7" y="1951" text-anchor="middle">Ni</text><text x="1725.64" y="1951" text-anchor="middle">TCR</text></g>
<text transform="translate(39.8 1487.5) rotate(-90) scale(1 1.05)" text-anchor="middle" font-size="36.5px">CR and TCR for children</text>
<text x="188" y="1096.2" font-size="70px">b</text>
</g>
</svg>
</body>
</html>
